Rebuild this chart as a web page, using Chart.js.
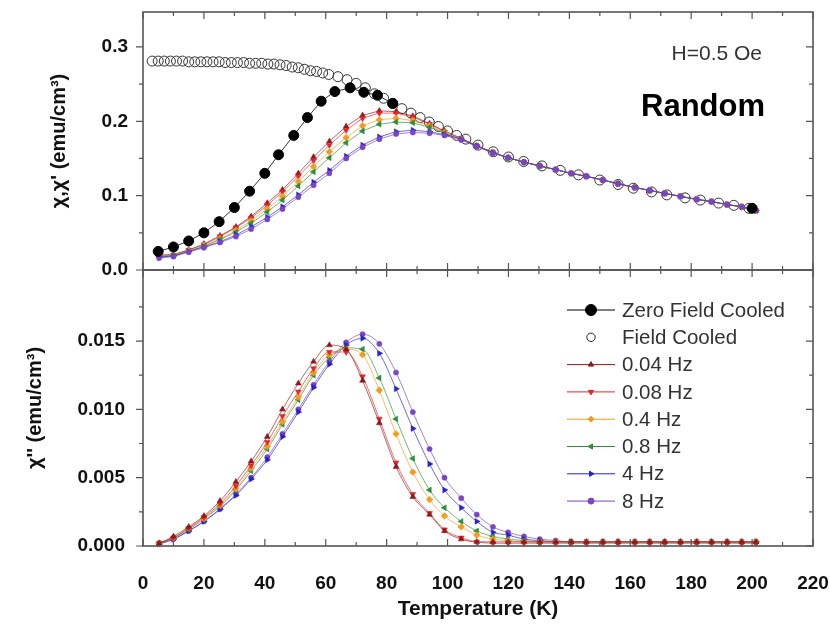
<!DOCTYPE html>
<html>
<head>
<meta charset="utf-8">
<script src="https://cdn.jsdelivr.net/npm/chart.js@4.4.1/dist/chart.umd.min.js"></script>
<style>
  html, body { margin: 0; background: #fff; }
  #wrap { position: relative; width: 830px; height: 634px; }
  canvas { position: absolute; left: 0; }
  #lowPanel { top: 260px; }
  #topPanel { top: 0; }
</style>
</head>
<body>
<div id="wrap">
  <canvas id="lowPanel" width="830" height="374"></canvas>
  <canvas id="topPanel" width="830" height="290"></canvas>
</div>
<script>
// DC susceptibility (ZFC / FC); null breaks the ZFC line before the 200 K point
const zfcT = [5, 10, 15, 20, 25, 30, 35, 40, 44.5, 49.5, 54, 58.5, 63, 68, 72.5, 77, 82, 140, 200];
const zfcChi = [0.025, 0.031, 0.039, 0.050, 0.065, 0.084, 0.106, 0.130, 0.155, 0.181, 0.205, 0.227, 0.240, 0.245, 0.239, 0.235, 0.224, null, 0.083];

const fcT = [3, 5, 7, 9, 11, 13, 15, 17, 19, 21, 23, 25, 27, 29, 31, 33, 35, 37, 39, 41, 43, 45, 47, 49, 51, 53, 55, 57, 59, 61, 64, 67, 70, 73, 76, 79, 82, 85, 88, 91, 94, 97, 100, 103, 106, 110, 115, 120, 125, 131, 137, 143, 150, 156, 161, 167, 172, 178, 183, 189, 194, 199];
const fcChi = [0.281, 0.281, 0.281, 0.281, 0.281, 0.281, 0.280, 0.280, 0.280, 0.280, 0.280, 0.280, 0.279, 0.279, 0.279, 0.279, 0.278, 0.278, 0.278, 0.277, 0.277, 0.276, 0.275, 0.273, 0.272, 0.270, 0.268, 0.267, 0.265, 0.263, 0.260, 0.256, 0.251, 0.245, 0.237, 0.231, 0.224, 0.217, 0.211, 0.205, 0.199, 0.193, 0.187, 0.181, 0.176, 0.168, 0.159, 0.152, 0.146, 0.140, 0.134, 0.128, 0.121, 0.115, 0.110, 0.105, 0.101, 0.097, 0.094, 0.090, 0.087, 0.083];

// AC susceptibility, shared temperature grid
const acT = [5.3, 10, 15, 20, 25.3, 30.5, 35.5, 40.8, 45.8, 51, 56, 61.2, 66.7, 72.1, 77.6, 83.1, 88.6, 94.1, 99, 104.5, 109.6, 114.9, 119.9, 125.1, 130.3, 135.5, 140.6, 145.6, 151, 156, 161.5, 166.4, 171.3, 176.5, 181.8, 186.7, 191.8, 196.6, 201.3];

// chi' (real part)
const re004 = [0.020, 0.021, 0.027, 0.035, 0.046, 0.058, 0.072, 0.090, 0.108, 0.130, 0.152, 0.173, 0.193, 0.208, 0.214, 0.213, 0.207, 0.197, 0.187, 0.177, 0.167, 0.158, 0.151, 0.145, 0.140, 0.135, 0.130, 0.126, 0.121, 0.116, 0.111, 0.107, 0.103, 0.099, 0.095, 0.092, 0.088, 0.085, 0.080];
const re008 = [0.019, 0.020, 0.027, 0.034, 0.045, 0.057, 0.070, 0.087, 0.105, 0.126, 0.147, 0.168, 0.188, 0.204, 0.211, 0.211, 0.206, 0.196, 0.186, 0.177, 0.167, 0.158, 0.151, 0.145, 0.140, 0.135, 0.130, 0.126, 0.121, 0.116, 0.111, 0.107, 0.103, 0.099, 0.095, 0.092, 0.088, 0.085, 0.080];
const re04 = [0.018, 0.020, 0.026, 0.033, 0.042, 0.053, 0.066, 0.082, 0.099, 0.119, 0.139, 0.159, 0.178, 0.194, 0.202, 0.204, 0.201, 0.194, 0.185, 0.176, 0.167, 0.158, 0.151, 0.145, 0.140, 0.135, 0.130, 0.126, 0.121, 0.116, 0.111, 0.107, 0.103, 0.099, 0.095, 0.092, 0.088, 0.085, 0.080];
const re08 = [0.018, 0.019, 0.025, 0.032, 0.041, 0.051, 0.063, 0.078, 0.094, 0.113, 0.132, 0.151, 0.171, 0.187, 0.196, 0.199, 0.198, 0.192, 0.184, 0.176, 0.167, 0.158, 0.151, 0.145, 0.140, 0.135, 0.130, 0.126, 0.121, 0.116, 0.111, 0.107, 0.103, 0.099, 0.095, 0.092, 0.088, 0.085, 0.080];
const re4 = [0.017, 0.019, 0.025, 0.031, 0.038, 0.047, 0.058, 0.071, 0.085, 0.101, 0.118, 0.134, 0.153, 0.168, 0.179, 0.186, 0.188, 0.186, 0.182, 0.176, 0.167, 0.158, 0.151, 0.145, 0.140, 0.135, 0.130, 0.126, 0.121, 0.116, 0.111, 0.107, 0.103, 0.099, 0.095, 0.092, 0.088, 0.085, 0.080];
const re8 = [0.016, 0.018, 0.024, 0.030, 0.037, 0.045, 0.055, 0.068, 0.082, 0.098, 0.114, 0.130, 0.150, 0.165, 0.176, 0.183, 0.185, 0.184, 0.181, 0.175, 0.166, 0.157, 0.151, 0.145, 0.140, 0.135, 0.130, 0.126, 0.121, 0.116, 0.111, 0.107, 0.103, 0.099, 0.095, 0.092, 0.088, 0.085, 0.080];

// chi'' (imaginary part)
const im004 = [0.0002, 0.0007, 0.0014, 0.0022, 0.0033, 0.0047, 0.0062, 0.0080, 0.0100, 0.0119, 0.0135, 0.0147, 0.0144, 0.0121, 0.0090, 0.0058, 0.0036, 0.0023, 0.0011, 0.0005, 0.0003, 0.0003, 0.0003, 0.0003, 0.0003, 0.0003, 0.0003, 0.0003, 0.0003, 0.0003, 0.0003, 0.0003, 0.0003, 0.0003, 0.0003, 0.0003, 0.0003, 0.0003, 0.0003];
const im008 = [0.0002, 0.0006, 0.0013, 0.0021, 0.0031, 0.0044, 0.0059, 0.0076, 0.0095, 0.0113, 0.0130, 0.0142, 0.0142, 0.0124, 0.0093, 0.0061, 0.0038, 0.0024, 0.0012, 0.0006, 0.0003, 0.0002, 0.0002, 0.0002, 0.0002, 0.0002, 0.0002, 0.0002, 0.0002, 0.0002, 0.0002, 0.0002, 0.0002, 0.0002, 0.0002, 0.0002, 0.0002, 0.0002, 0.0002];
const im04 = [0.0002, 0.0006, 0.0013, 0.0020, 0.0030, 0.0042, 0.0057, 0.0073, 0.0091, 0.0109, 0.0127, 0.0140, 0.0144, 0.0140, 0.0114, 0.0082, 0.0054, 0.0034, 0.0022, 0.0014, 0.0008, 0.0005, 0.0004, 0.0003, 0.0003, 0.0003, 0.0003, 0.0003, 0.0003, 0.0003, 0.0003, 0.0003, 0.0003, 0.0003, 0.0003, 0.0003, 0.0003, 0.0003, 0.0003];
const im08 = [0.0002, 0.0006, 0.0012, 0.0020, 0.0029, 0.0041, 0.0055, 0.0071, 0.0089, 0.0107, 0.0125, 0.0138, 0.0145, 0.0144, 0.0123, 0.0093, 0.0064, 0.0041, 0.0028, 0.0018, 0.0011, 0.0007, 0.0005, 0.0004, 0.0003, 0.0003, 0.0003, 0.0003, 0.0003, 0.0003, 0.0003, 0.0003, 0.0003, 0.0003, 0.0003, 0.0003, 0.0003, 0.0003, 0.0003];
const im4 = [0.00015, 0.0005, 0.0011, 0.0018, 0.0027, 0.0037, 0.0049, 0.0063, 0.0080, 0.0098, 0.0116, 0.0133, 0.0147, 0.0152, 0.0141, 0.0115, 0.0086, 0.0060, 0.0041, 0.0028, 0.0018, 0.0010, 0.0008, 0.0005, 0.0004, 0.0003, 0.0003, 0.0003, 0.0003, 0.0003, 0.0003, 0.0003, 0.0003, 0.0003, 0.0003, 0.0003, 0.0003, 0.0003, 0.0003];
const im8 = [0.00015, 0.0005, 0.0011, 0.0018, 0.0027, 0.0038, 0.0050, 0.0065, 0.0082, 0.0100, 0.0118, 0.0135, 0.0149, 0.0155, 0.0148, 0.0127, 0.0098, 0.0071, 0.0050, 0.0035, 0.0023, 0.0014, 0.0010, 0.0007, 0.0005, 0.0004, 0.0003, 0.0003, 0.0003, 0.0003, 0.0003, 0.0003, 0.0003, 0.0003, 0.0003, 0.0003, 0.0003, 0.0003, 0.0003];

// axis ticks
const tempTicks = [0, 20, 40, 60, 80, 100, 120, 140, 160, 180, 200, 220];
const topTicks = [0, 0.1, 0.2, 0.3];
const lowTicks = [0, 0.005, 0.010, 0.015];

const freqLabels = ['0.04 Hz', '0.08 Hz', '0.4 Hz', '0.8 Hz', '4 Hz', '8 Hz'];
const freqColors = ['#8e1b1b', '#e3262b', '#f39c1f', '#2e8d3a', '#2323c9', '#7b44c4'];
const freqShapes = [['triangle', 0], ['triangle', 180], ['rectRot', 0], ['triangle', -90], ['triangle', 90], ['circle', 0]];
const reSeries = [re004, re008, re04, re08, re4, re8];
const imSeries = [im004, im008, im04, im08, im4, im8];

Chart.defaults.font.family = '"Liberation Sans", Arial, sans-serif';
Chart.defaults.color = '#111';

const pts = (xs, ys) => xs.map((x, i) => ({ x: x, y: ys[i] }));

function acSets(series, smooth) {
  return series.map((vals, i) => ({
    label: freqLabels[i],
    data: pts(acT, vals),
    borderColor: freqColors[i] + 'aa',
    borderWidth: 1,
    backgroundColor: freqColors[i],
    pointBorderColor: freqColors[i],
    pointStyle: freqShapes[i][0],
    pointRotation: freqShapes[i][1],
    pointRadius: freqShapes[i][0] === 'circle' ? 2.6 : 3.4,
    pointBorderWidth: 0.5,
    tension: smooth ? 0.4 : 0,
    cubicInterpolationMode: smooth ? 'monotone' : 'default',
    clip: false
  }));
}

// keep the plot box exactly where the layout padding puts it
const noEdgePad = s => { s.paddingTop = 0; s.paddingBottom = 0; s.paddingLeft = 0; s.paddingRight = 0; };

// frame box plus Origin-style tick marks (left outward, others inward)
function frameTicks(yMajor, yMax) {
  return {
    id: 'frameTicks',
    afterDatasetsDraw(chart) {
      const { ctx, chartArea: a, scales } = chart;
      const x = scales.x, y = scales.y;
      ctx.save();
      ctx.strokeStyle = '#555';
      ctx.lineWidth = 1.2;
      ctx.beginPath();
      for (let i = 0; i < tempTicks.length; i++) {
        const marks = [[tempTicks[i], 7]];
        if (i < tempTicks.length - 1) marks.push([(tempTicks[i] + tempTicks[i + 1]) / 2, 4]);
        marks.forEach(([v, len]) => {
          const px = x.getPixelForValue(v);
          ctx.moveTo(px, a.bottom); ctx.lineTo(px, a.bottom - len);
          ctx.moveTo(px, a.top); ctx.lineTo(px, a.top + len);
        });
      }
      const step = yMajor[1] - yMajor[0];
      yMajor.forEach(v => {
        [[v, 7], [v + step / 2, 4]].forEach(([val, len]) => {
          if (val > yMax) return;
          const py = y.getPixelForValue(val);
          ctx.moveTo(a.left, py); ctx.lineTo(a.left - len, py);
          ctx.moveTo(a.right, py); ctx.lineTo(a.right - len, py);
        });
      });
      ctx.stroke();
      ctx.lineWidth = 1.6;
      ctx.strokeRect(a.left, a.top, a.right - a.left, a.bottom - a.top);
      ctx.restore();
    }
  };
}

const topNotes = {
  id: 'topNotes',
  afterDraw(chart) {
    const { ctx, chartArea: a } = chart;
    ctx.save();
    ctx.textAlign = 'right';
    ctx.textBaseline = 'middle';
    ctx.fillStyle = '#333';
    ctx.font = '21px "Liberation Sans", Arial, sans-serif';
    ctx.fillText('H=0.5 Oe', a.right - 51, a.top + 42);
    ctx.fillStyle = '#000';
    ctx.font = 'bold 31px "Liberation Sans", Arial, sans-serif';
    ctx.fillText('Random', a.right - 48, a.top + 95);
    ctx.restore();
  }
};

// legend inside the lower panel
const legendRows = [
  { label: 'Zero Field Cooled', color: '#000', shape: 'circle', rot: 0, r: 5.5, line: true, fill: true },
  { label: 'Field Cooled', color: '#222', shape: 'circle', rot: 0, r: 4.2, line: false, fill: false }
].concat(freqLabels.map((l, i) => ({
  label: l, color: freqColors[i], shape: freqShapes[i][0], rot: freqShapes[i][1], r: 3, line: true, fill: true
})));

const lowLegend = {
  id: 'lowLegend',
  afterDraw(chart) {
    const { ctx, chartArea: a } = chart;
    ctx.save();
    ctx.font = '20.5px "Liberation Sans", Arial, sans-serif';
    ctx.textBaseline = 'middle';
    legendRows.forEach((row, i) => {
      const y = a.top + 40 + i * 27.3;
      const x0 = a.left + 424;
      if (row.line) {
        ctx.strokeStyle = row.color;
        ctx.lineWidth = 1;
        ctx.beginPath(); ctx.moveTo(x0, y); ctx.lineTo(x0 + 48, y); ctx.stroke();
      }
      ctx.fillStyle = row.fill ? row.color : 'rgba(0,0,0,0)';
      ctx.strokeStyle = row.color;
      ctx.lineWidth = 1;
      Chart.helpers.drawPoint(ctx, { pointStyle: row.shape, rotation: row.rot, radius: row.r, borderWidth: 1 }, x0 + 24, y);
      ctx.fillStyle = '#333';
      ctx.fillText(row.label, x0 + 55, y + 1);
    });
    ctx.restore();
  }
};

// ZFC on top, then 8 Hz ... 0.04 Hz, FC underneath
const topSets = [
  {
    label: 'Zero Field Cooled', data: pts(zfcT, zfcChi), spanGaps: false,
    borderColor: '#333', borderWidth: 1, backgroundColor: '#000', pointBorderColor: '#000',
    pointRadius: 5, pointStyle: 'circle', clip: false
  }
].concat(acSets(reSeries, false).reverse()).concat([
  {
    label: 'Field Cooled', data: pts(fcT, fcChi), showLine: false,
    borderColor: '#222', backgroundColor: 'rgba(0,0,0,0)', pointBorderColor: '#333',
    pointBorderWidth: 1, pointRadius: 5, pointStyle: 'circle', clip: false
  }
]);

new Chart(document.getElementById('topPanel'), {
  type: 'line',
  data: { datasets: topSets },
  options: {
    responsive: false,
    animation: false,
    layout: { padding: { top: 12, right: 17, bottom: 20, left: 0 } },
    plugins: { legend: { display: false }, tooltip: { enabled: false } },
    scales: {
      x: { type: 'linear', min: 0, max: 220, display: false },
      y: {
        min: 0, max: 0.347,
        afterFit: s => { s.width = 143; noEdgePad(s); },
        afterBuildTicks: s => { s.ticks = topTicks.map(v => ({ value: v })); },
        grid: { display: false, drawTicks: false },
        border: { display: false },
        ticks: { padding: 15, font: { size: 19, weight: 'bold' }, callback: v => v.toFixed(1) },
        title: {
          display: true, text: "χ,χ' (emu/cm³)",
          padding: { top: 47, bottom: 0 }, font: { size: 20, weight: 'bold' }
        }
      }
    }
  },
  plugins: [frameTicks(topTicks, 0.347), topNotes]
});

new Chart(document.getElementById('lowPanel'), {
  type: 'line',
  data: { datasets: acSets(imSeries, true) },
  options: {
    responsive: false,
    animation: false,
    layout: { padding: { top: 10, right: 17, bottom: 11, left: 0 } },
    plugins: { legend: { display: false }, tooltip: { enabled: false } },
    scales: {
      x: {
        type: 'linear', min: 0, max: 220,
        afterFit: s => { s.height = 77; noEdgePad(s); },
        afterBuildTicks: s => { s.ticks = tempTicks.map(v => ({ value: v })); },
        grid: { display: false, drawTicks: false },
        border: { display: false },
        ticks: { padding: 26, maxRotation: 0, font: { size: 19, weight: 'bold' } },
        title: {
          display: true, text: 'Temperature (K)',
          padding: { top: 0, bottom: 1 }, font: { size: 21, weight: 'bold' }
        }
      },
      y: {
        min: 0, max: 0.0202,
        afterFit: s => { s.width = 143; noEdgePad(s); },
        afterBuildTicks: s => { s.ticks = lowTicks.map(v => ({ value: v })); },
        grid: { display: false, drawTicks: false },
        border: { display: false },
        ticks: { padding: 18, font: { size: 19, weight: 'bold' }, callback: v => v.toFixed(3) },
        title: {
          display: true, text: "χ'' (emu/cm³)",
          padding: { top: 23, bottom: 0 }, font: { size: 20, weight: 'bold' }
        }
      }
    }
  },
  plugins: [frameTicks(lowTicks, 0.0202), lowLegend]
});
</script>
</body>
</html>
